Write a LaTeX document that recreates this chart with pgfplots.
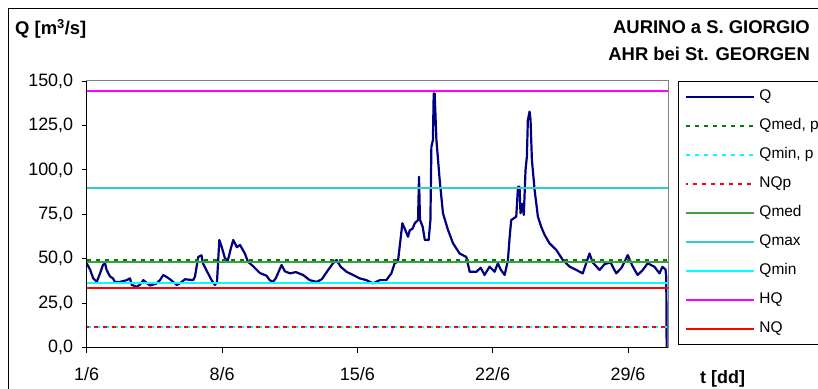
\documentclass[border=0pt]{standalone}
\usepackage{pgfplots}
\pgfplotsset{compat=1.18}
\usepackage{fontspec}
\setmainfont{Liberation Sans}
\definecolor{qnavy}{RGB}{0,0,128}
\definecolor{qmedp}{RGB}{0,128,0}
\definecolor{qmed}{RGB}{60,160,60}
\definecolor{qmax}{RGB}{51,204,204}
\definecolor{qmin}{RGB}{0,255,255}
\definecolor{hq}{RGB}{255,0,255}
\definecolor{nq}{RGB}{255,0,0}
\begin{document}
\begin{tikzpicture}
\path[use as bounding box] (0bp,0bp) rectangle (818bp,389bp);
\draw[black, line width=1bp] (8bp,-10bp) -- (8bp,380bp) -- (830bp,380bp);
\begin{axis}[
  scale only axis,
  width=581.3bp, height=266.7bp,
  at={(86.7bp,41.3bp)}, anchor=south west,
  xmin=0, xmax=30.07, ymin=0, ymax=150,
  clip mode=individual,
  axis line style={draw=gray, line width=1bp},
  xtick={0,7,14,21,28},
  xticklabels={1/6,8/6,15/6,22/6,29/6},
  ytick={0,25,50,75,100,125,150},
  xtick pos=left, ytick pos=left,
  tick align=outside,
  major tick length=5bp,
  tick style={black, line width=0.8bp},
  /pgf/number format/assume math mode=true,
  yticklabel={\pgfmathprintnumber[fixed,fixed zerofill,precision=1,use comma,1000 sep={}]{\tick}},
  ticklabel style={font=\fontsize{18}{21}\selectfont},
  xticklabel style={yshift=-11bp},
  yticklabel style={xshift=-5bp},
  legend style={at={(axis description cs:1.0172,1)}, anchor=north west,
    draw=black, line width=0.8bp, font=\fontsize{15.5}{18}\selectfont,
    inner xsep=7bp, inner ysep=8bp, row sep=14bp,
    nodes={inner sep=0pt, text height=11bp, text depth=4bp}},
  legend cell align=left,
  legend image code/.code={\draw[#1, line width=1.4bp] (0bp,0bp) -- (67.7bp,0bp) node[right=4bp,draw=none]{};},
]
\addplot[qnavy, line width=2.2bp, line join=round] coordinates {
(0.00,47.5) (0.17,44) (0.34,39) (0.52,37) (0.69,41.8) (0.84,46.5) (0.95,47.5)
(1.03,43.7) (1.21,40) (1.36,39) (1.46,37) (1.72,37) (2.07,38) (2.24,39)
(2.33,35.3) (2.59,34.3) (2.76,35.5) (2.93,38) (3.27,35) (3.59,36) (3.79,38)
(3.96,40.9) (4.10,40) (4.31,38.5) (4.66,35.3) (4.83,36.3) (5.09,38.5) (5.51,38)
(5.60,40) (5.77,51) (5.94,52) (6.01,47.6) (6.22,43) (6.46,38) (6.63,35.3)
(6.74,37) (6.86,60.6) (6.98,56.8) (7.15,50.3) (7.30,49) (7.46,56) (7.58,60.6)
(7.77,56.5) (7.93,57.8) (8.18,53) (8.34,48.4) (8.59,46) (8.96,42) (9.30,40.5)
(9.47,38) (9.63,37) (9.78,39) (10.08,46.5) (10.25,43) (10.51,41.8) (10.82,42.5)
(11.19,40.9) (11.54,38) (11.89,37) (12.16,38.5) (12.49,43.7) (12.74,47.5)
(12.92,49.3) (13.14,45.5) (13.44,42.7) (13.76,41) (14.12,39) (14.47,38)
(14.81,36.2) (15.16,38) (15.50,38) (15.76,41.8) (15.93,47.5) (16.10,48.4)
(16.19,56.8) (16.33,70) (16.45,67) (16.62,62.4) (16.71,66) (16.86,67) (16.97,70)
(17.14,71.8) (17.19,96.2) (17.24,72) (17.38,68) (17.49,60.6) (17.69,60.6)
(17.78,71.8) (17.83,113) (17.91,116.8) (17.95,143) (18.00,143) (18.09,116.8)
(18.26,94.3) (18.43,75.6) (18.69,66.2) (18.95,58.7) (19.29,53) (19.64,51)
(19.81,42.7) (20.16,42.7) (20.38,45) (20.58,40.9) (20.84,45.6) (21.10,42.7)
(21.27,47.5) (21.41,44) (21.62,40.9) (21.79,49.3) (21.88,62.4) (21.96,71.8)
(22.22,73.7) (22.31,90.5) (22.39,90.5) (22.44,75.6) (22.53,81) (22.61,74.6)
(22.70,100) (22.77,107.4) (22.82,128) (22.91,132.8) (22.96,128) (23.03,105.6)
(23.17,88.7) (23.34,73.7) (23.51,68) (23.69,63.4) (23.94,58.7) (24.29,55)
(24.63,49.3) (24.98,45.6) (25.33,43.7) (25.66,41.8) (26.01,53) (26.17,48)
(26.53,43.7) (26.79,47) (27.10,48) (27.39,41.8) (27.67,45) (27.99,52.1)
(28.23,46) (28.50,40.9) (28.75,43.5) (29.02,47.5) (29.37,45.5) (29.63,41.8)
(29.78,45.5) (29.94,44) (29.98,40) (30.00,0)
};
\addlegendentry{Q}
\addplot[qmedp, line width=2.2bp, dash pattern=on 4bp off 5bp] coordinates {(0,49.3) (30.07,49.3)};
\addlegendentry{Qmed, p}
\addplot[qmin, line width=2.2bp, dash pattern=on 4bp off 5bp] coordinates {(0,11.8) (30.07,11.8)};
\addlegendentry{Qmin, p}
\addplot[nq, line width=2.2bp, dash pattern=on 4bp off 5bp, dash phase=2bp] coordinates {(0,11.8) (30.07,11.8)};
\addlegendentry{NQp}
\addplot[qmed, line width=2.2bp] coordinates {(0,48.4) (30.07,48.4)};
\addlegendentry{Qmed}
\addplot[qmax, line width=2.2bp] coordinates {(0,90) (30.07,90)};
\addlegendentry{Qmax}
\addplot[qmin, line width=2.2bp] coordinates {(0,36.2) (30.07,36.2)};
\addlegendentry{Qmin}
\addplot[hq, line width=2.4bp] coordinates {(0,144.4) (30.07,144.4)};
\addlegendentry{HQ}
\addplot[nq, line width=2.2bp] coordinates {(0,33.4) (30.07,33.4)};
\addlegendentry{NQ}
\draw[black, line width=1.2bp] (rel axis cs:0,1) -- (rel axis cs:0,0) -- (rel axis cs:1,0);
\end{axis}
\node[anchor=base west, font=\bfseries\fontsize{18.5}{22}\selectfont, inner sep=0pt] at (15bp,354bp) {Q [m\textsuperscript{3}/s]};
\node[anchor=base east, font=\bfseries\fontsize{18.5}{22}\selectfont, inner sep=0pt] at (810bp,355bp) {AURINO a S. GIORGIO};
\node[anchor=base east, font=\bfseries\fontsize{18.5}{22}\selectfont, inner sep=0pt] at (810bp,328bp) {AHR bei St. GEORGEN};
\node[anchor=base west, font=\bfseries\fontsize{18}{22}\selectfont, inner sep=0pt] at (700bp,5.7bp) {t [dd]};
\end{tikzpicture}
\end{document}
